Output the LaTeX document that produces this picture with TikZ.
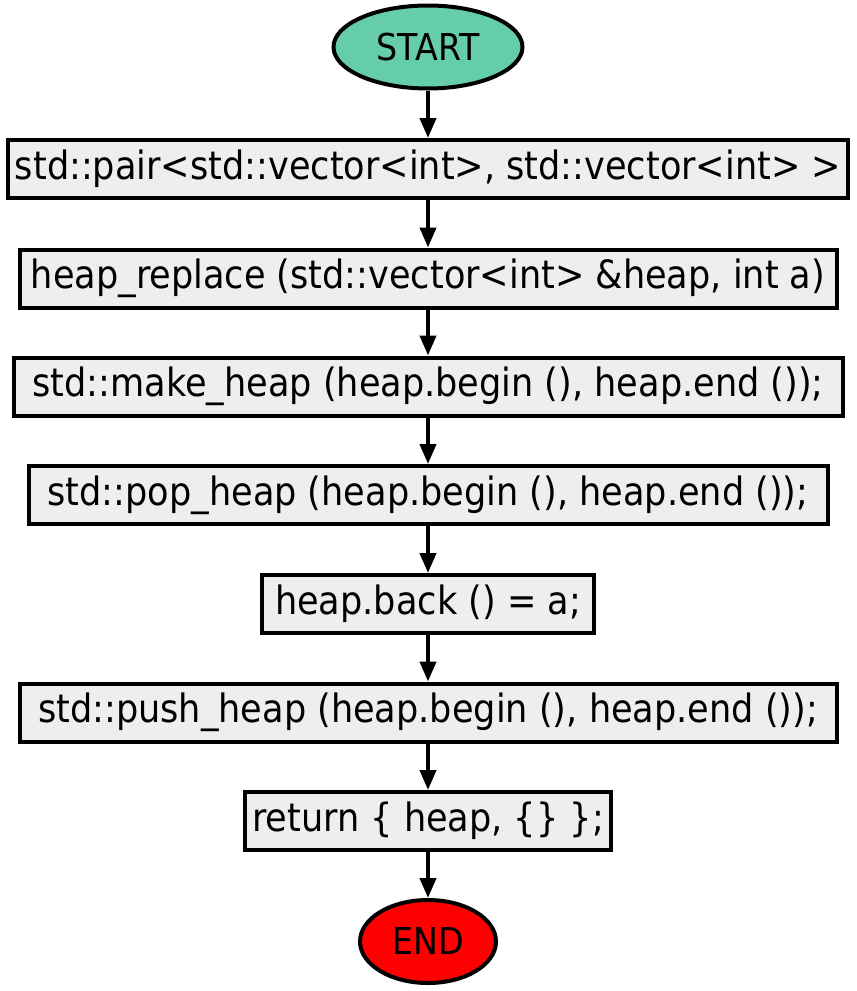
\documentclass[tikz,border=0pt]{standalone}
\usepackage{fontspec}
\setmainfont[FakeStretch=0.9]{DejaVu Sans}
\usetikzlibrary{arrows.meta,shapes.geometric}
\definecolor{boxgray}{HTML}{EEEEEE}
\definecolor{startgreen}{HTML}{66CDAA}
\definecolor{endred}{HTML}{FF0000}
\tikzset{
  stepbox/.style={draw=black, fill=boxgray, line width=4pt, inner sep=0pt, minimum height=58pt,
    font=\fontsize{39}{44}\selectfont, text=black},
  terminal/.style={draw=black, ellipse, line width=4pt, inner sep=0pt, minimum height=83pt,
    font=\fontsize{37}{42}\selectfont, text=black},
  flow/.style={line width=4pt, -{Triangle[length=20pt,width=16pt]}}
}
\begin{document}
\begin{tikzpicture}[x=1pt,y=-1pt]
\useasboundingbox (0,0) rectangle (857,991);
\node[terminal, fill=startgreen, minimum width=189pt] (start) at (428,47) {START};
\node[stepbox, minimum width=840pt] (b1) at (428,169) {std::pair<std::vector<int>, std::vector<int> >};
\node[stepbox, minimum width=817pt] (b2) at (428,278.5) {heap\_replace (std::vector<int> \&heap, int a)};
\node[stepbox, minimum width=829pt] (b3) at (428,386.5) {std::make\_heap (heap.begin (), heap.end ());};
\node[stepbox, minimum width=799pt] (b4) at (428,495) {std::pop\_heap (heap.begin (), heap.end ());};
\node[stepbox, minimum width=332pt] (b5) at (428,604) {heap.back () = a;};
\node[stepbox, minimum width=817pt] (b6) at (428,712.5) {std::push\_heap (heap.begin (), heap.end ());};
\node[stepbox, minimum width=366pt] (b7) at (428,821) {return \{ heap, \{\} \};};
\node[terminal, fill=endred, minimum width=136pt] (end) at (428,941.5) {END};
\draw[flow] (start) -- (b1);
\draw[flow] (b1) -- (b2);
\draw[flow] (b2) -- (b3);
\draw[flow] (b3) -- (b4);
\draw[flow] (b4) -- (b5);
\draw[flow] (b5) -- (b6);
\draw[flow] (b6) -- (b7);
\draw[flow] (b7) -- (end);
\end{tikzpicture}
\end{document}
